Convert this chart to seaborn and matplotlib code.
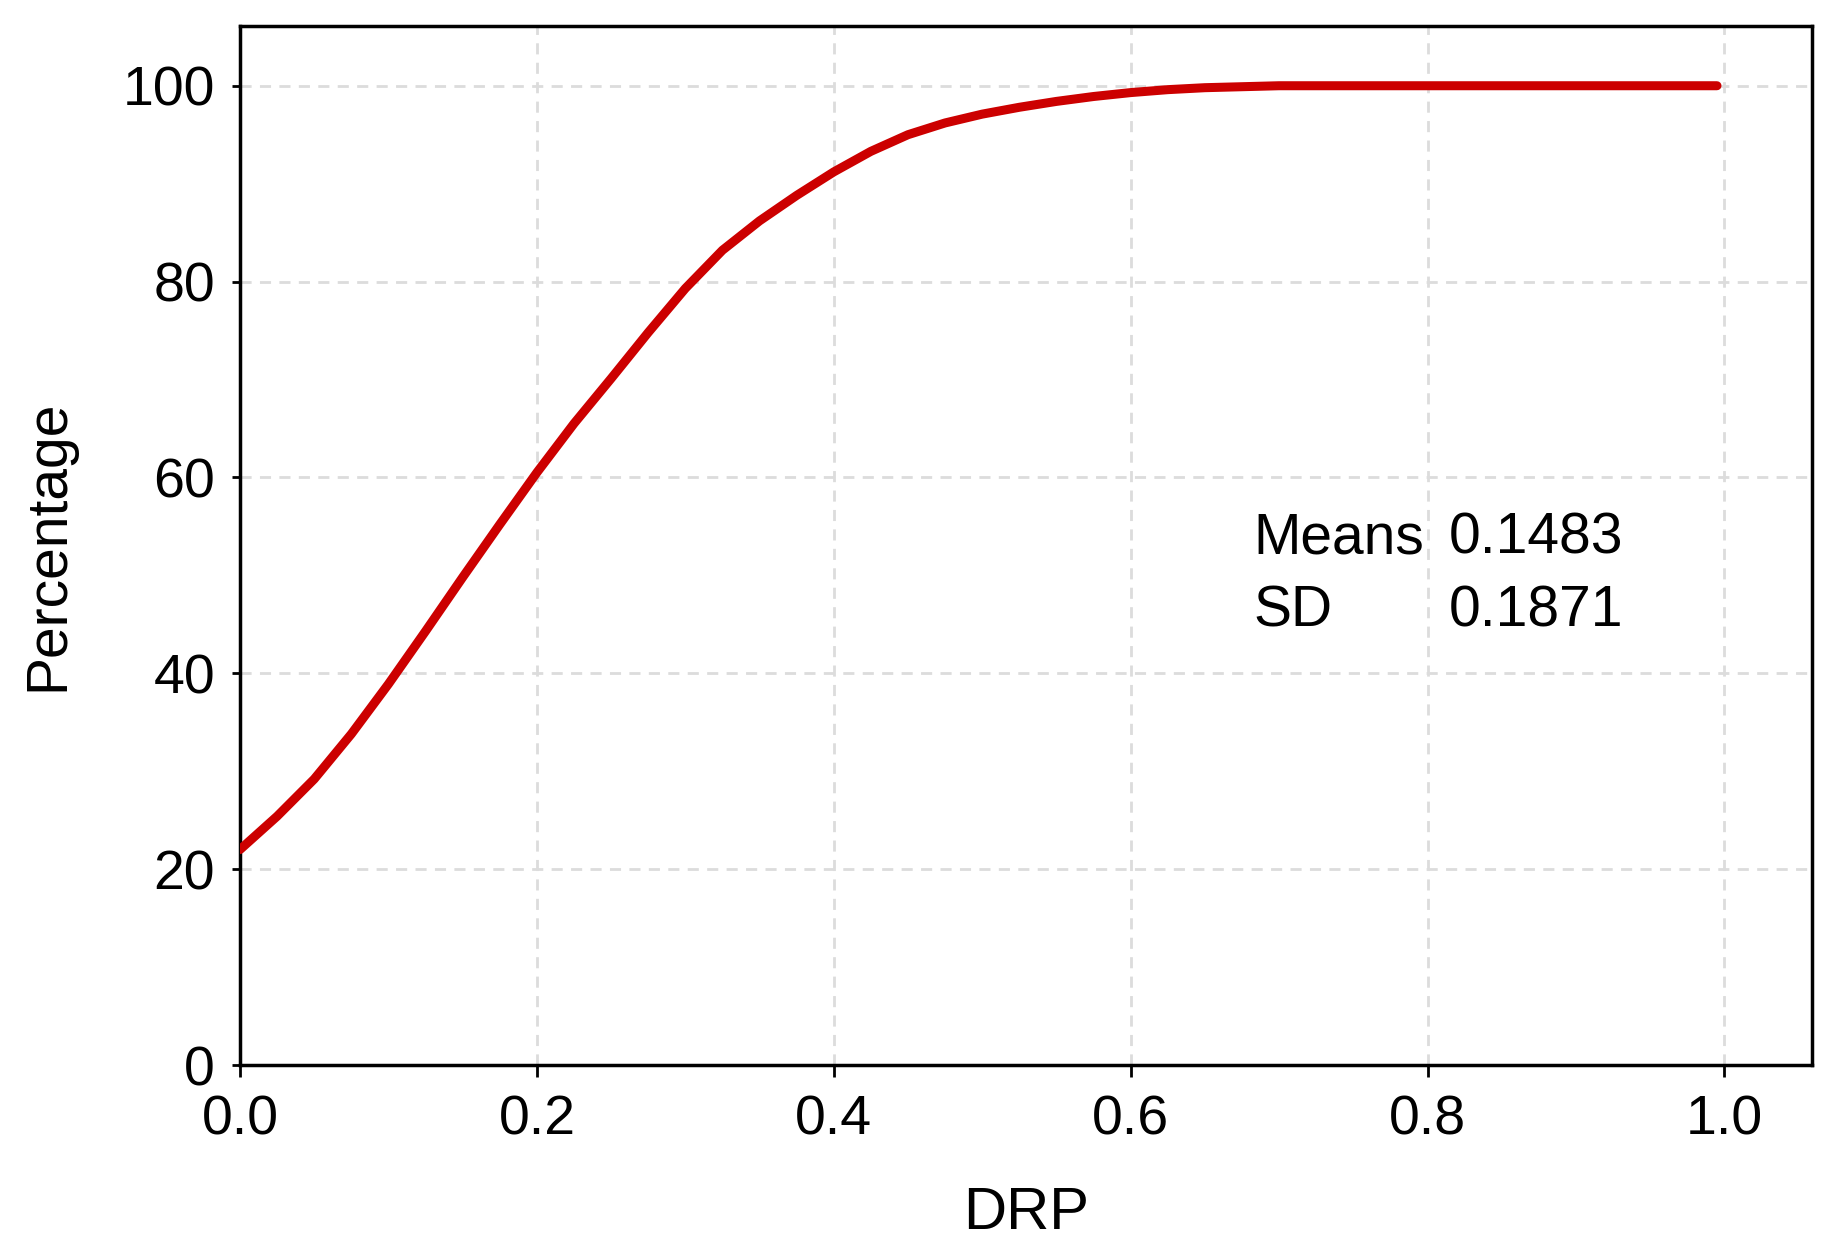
import numpy as np
import pandas as pd
import seaborn as sns
import matplotlib.pyplot as plt

# curva acumulada (DRP x percentual)
drp = [0.0, 0.025, 0.05, 0.075, 0.1, 0.125, 0.15, 0.175, 0.2, 0.225,
       0.25, 0.275, 0.3, 0.325, 0.35, 0.375, 0.4, 0.425, 0.45, 0.475,
       0.5, 0.525, 0.55, 0.575, 0.6, 0.625, 0.65, 0.675, 0.7, 0.8, 0.9,
       0.995]
percentage = [22.0, 25.4, 29.2, 33.8, 38.9, 44.3, 49.8, 55.2, 60.5, 65.5,
              70.1, 74.8, 79.3, 83.2, 86.2, 88.8, 91.2, 93.3, 95.0, 96.2,
              97.1, 97.8, 98.4, 98.9, 99.3, 99.6, 99.8, 99.9, 100.0, 100.0,
              100.0, 100.0]
stat_names = ['Means', 'SD']
stat_values = ['0.1483', '0.1871']

df = pd.DataFrame({'DRP': drp, 'Percentage': percentage})

sns.set_style('white')
plt.rcParams['font.family'] = ['Liberation Sans', 'DejaVu Sans']
plt.rcParams['text.color'] = 'black'
plt.rcParams['axes.labelcolor'] = 'black'

fig = plt.figure(figsize=(18.45, 12.47), dpi=100)
ax = fig.add_axes([240 / 1845, 1 - 1065 / 1247,
                   (1812 - 240) / 1845, (1065 - 26) / 1247])

sns.lineplot(data=df, x='DRP', y='Percentage', color='#cc0000',
             linewidth=6.5, ax=ax, zorder=3)

ax.set_xlim(0, 1.059)
ax.set_ylim(0, 106.1)
ax.set_xticks(np.arange(0, 1.01, 0.2))
ax.set_yticks(np.arange(0, 101, 20))
ax.set_xticklabels([f'{v:.1f}' for v in np.arange(0, 1.01, 0.2)])

ax.grid(True, linestyle=(0, (4, 3)), color='#dcdcdc', linewidth=2, zorder=0)
for s in ax.spines.values():
    s.set_linewidth(2.5)
    s.set_color('black')

ax.tick_params(axis='both', direction='out', width=2, labelsize=40,
               colors='black', bottom=True, left=True)
ax.tick_params(axis='x', length=8.5, pad=13)
ax.tick_params(axis='y', length=6, pad=12)

ax.set_xlabel('DRP', fontsize=43, labelpad=28)
ax.set_ylabel('Percentage', fontsize=41, labelpad=34)

# estatísticas
for k, (nome, valor) in enumerate(zip(stat_names, stat_values)):
    y = 53.8 - k * 7.5
    ax.text(0.683, y, nome, fontsize=41, va='center', ha='left')
    ax.text(0.814, y, valor, fontsize=41, va='center', ha='left')

plt.savefig('out.png', dpi=100)
